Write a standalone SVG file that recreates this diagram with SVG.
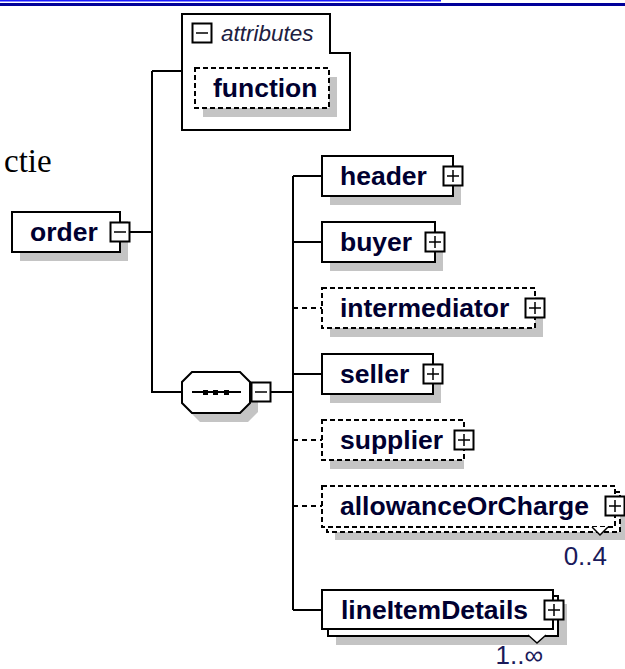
<svg xmlns="http://www.w3.org/2000/svg" width="625" height="669" viewBox="0 0 625 669">
<style>
.box{fill:#fff;stroke:#000;stroke-width:2}
.dbox{fill:#fff;stroke:#000;stroke-width:2;stroke-dasharray:5,3}
.sh{fill:#c4c4c4}
.lbl{font-family:"Liberation Sans",Arial,sans-serif;font-weight:bold;font-size:26.5px;fill:#000030}
.mult{font-family:"Liberation Sans",Arial,sans-serif;font-size:26px;fill:#1a1a5a;text-anchor:end}
.ico{fill:#fff;stroke:#000;stroke-width:2}
.icl{stroke:#000;stroke-width:1.5}
.con{fill:none;stroke:#000;stroke-width:2}
.dcon{fill:none;stroke:#000;stroke-width:2;stroke-dasharray:5,4}
</style>
<defs>
<g id="plus"><rect class="ico" x="-9.5" y="-9.5" width="19" height="19"/><path class="icl" d="M-6,0H6M0,-6V6"/></g>
<g id="minus"><rect class="ico" x="-9.5" y="-9.5" width="19" height="19"/><path class="icl" d="M-6,0H6"/></g>
</defs>
<rect x="0" y="0" width="441" height="1.5" fill="#1a1aff"/>
<rect x="0" y="3" width="625" height="3" fill="#000099"/>
<text x="4" y="172" font-family="Liberation Serif,'Times New Roman',serif" font-size="33" fill="#000">ctie</text>
<g id="connectors">
<path class="con" d="M152,71H182M152,71V392H182M130,232H152"/>
<path class="con" d="M271,392H293M293,176V610"/>
<path class="con" d="M293,176H322M293,242H322M293,374H322M293,610H322"/>
<path class="dcon" d="M293,308H322M293,440H322M293,506H322"/>
</g>
<g id="attributes">
<path class="box" d="M182,14H330V53H350V130H182Z"/>
<use href="#minus" x="202" y="33"/>
<text x="221" y="41" font-family="Liberation Sans,Arial,sans-serif" font-style="italic" font-size="22.5" fill="#202040">attributes</text>
</g>
<g id="function">
<rect class="sh" x="203" y="77" width="134" height="40"/>
<rect class="dbox" x="195" y="68" width="134" height="40"/>
<text class="lbl" x="213" y="97">function</text>
</g>
<g id="order">
<rect class="sh" x="20" y="221" width="108" height="40"/>
<rect class="box" x="12" y="212" width="108" height="40"/>
<text class="lbl" x="30" y="241">order</text>
<use href="#minus" x="120" y="232"/>
</g>
<g id="sequence">
<path class="sh" d="M200,381H248L258,391V412L248,422H200L190,412V391Z"/>
<path class="box" d="M192,372H240L250,382V403L240,413H192L182,403V382Z"/>
<path class="con" d="M192,392H241"/>
<rect x="203" y="390" width="5" height="5" fill="#000"/>
<rect x="213" y="390" width="5" height="5" fill="#000"/>
<rect x="224" y="390" width="5" height="5" fill="#000"/>
<use href="#minus" x="261" y="392"/>
</g>
<g id="header">
<rect class="sh" x="330" y="165" width="131" height="40"/>
<rect class="box" x="322" y="156" width="131" height="40"/>
<text class="lbl" x="340" y="185">header</text>
<use href="#plus" x="453" y="176"/>
</g>
<g id="buyer">
<rect class="sh" x="330" y="231" width="113" height="40"/>
<rect class="box" x="322" y="222" width="113" height="40"/>
<text class="lbl" x="340" y="251">buyer</text>
<use href="#plus" x="435" y="242"/>
</g>
<g id="intermediator">
<rect class="sh" x="330" y="297" width="213" height="40"/>
<rect class="dbox" x="322" y="288" width="213" height="40"/>
<text class="lbl" x="340" y="317">intermediator</text>
<use href="#plus" x="535" y="308"/>
</g>
<g id="seller">
<rect class="sh" x="330" y="363" width="111" height="40"/>
<rect class="box" x="322" y="354" width="111" height="40"/>
<text class="lbl" x="340" y="383">seller</text>
<use href="#plus" x="433" y="374"/>
</g>
<g id="supplier">
<rect class="sh" x="330" y="429" width="134" height="40"/>
<rect class="dbox" x="322" y="420" width="142" height="40"/>
<text class="lbl" x="340" y="449">supplier</text>
<use href="#plus" x="464" y="440"/>
</g>
<g id="allowanceOrCharge">
<rect class="sh" x="335" y="500" width="290" height="40"/>
<rect class="dbox" x="327" y="492" width="293" height="40"/>
<rect class="dbox" x="322" y="486" width="293" height="41"/>
<path fill="#fff" stroke="#000" stroke-width="1.5" d="M592,527L600,535L608,527"/>
<text class="lbl" x="340" y="515">allowanceOrCharge</text>
<use href="#plus" x="615" y="506"/>
<text class="mult" x="607" y="565">0..4</text>
</g>
<g id="lineItemDetails">
<rect class="sh" x="336" y="604" width="231" height="41"/>
<rect class="box" x="328" y="596" width="230" height="40"/>
<rect class="box" x="322" y="590" width="231" height="39"/>
<path fill="#fff" stroke="#000" stroke-width="1.5" d="M528,635L537,643L546,635"/>
<text class="lbl" x="341" y="619">lineItemDetails</text>
<use href="#plus" x="554" y="610"/>
<text class="mult" x="543" y="664">1..∞</text>
</g>
</svg>
